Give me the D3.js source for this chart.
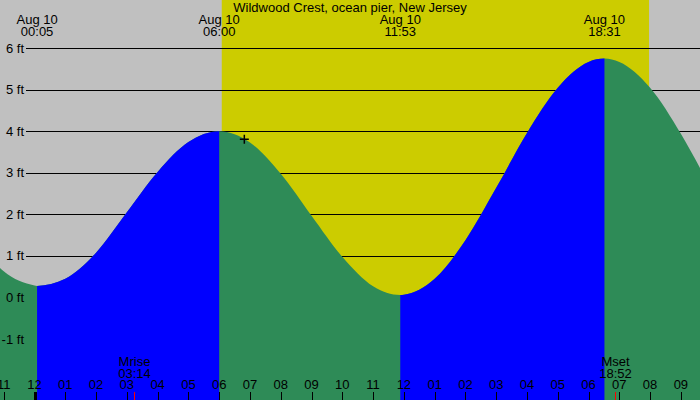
<!DOCTYPE html>
<html>
<head>
<meta charset="utf-8">
<script src="https://cdn.jsdelivr.net/npm/d3@7"></script>
<style>
  html, body { margin: 0; padding: 0; background: #fff; }
  svg { display: block; }
  text { font-family: "Liberation Sans", Arial, sans-serif; font-size: 13px; fill: #000; }
</style>
</head>
<body>
<svg id="chart" width="700" height="400"></svg>
<script>
// ---- data ----
const title = "Wildwood Crest, ocean pier, New Jersey";
const dateLabel = "Aug 10";
// tide extremes (times on Aug 10)
const extremeTimes = ["00:05", "06:00", "11:53", "18:31"];
const extremeTypes = ["low", "high", "low", "high"];
// water level (hours after Aug 10 00:00, feet)
const tideHours  = [-1.121, -1, 0, 0.083, 1, 2, 3, 4, 5, 6, 7, 8, 9, 10, 11, 11.883, 12, 13, 14, 15, 16, 17, 18, 18.517, 19, 20, 21, 21.621];
const tideLevels = [0.71, 0.63, 0.29, 0.28, 0.45, 1.08, 2.05, 3.02, 3.74, 4.0, 3.73, 2.98, 1.97, 0.98, 0.27, 0.06, 0.065, 0.45, 1.38, 2.64, 3.96, 5.05, 5.67, 5.75, 5.67, 5.05, 3.94, 3.12];
// daylight
const sunTimes = ["06:05", "19:58"];
// moon
const moonLabels = ["Mrise", "Mset"];
const moonTimes = ["03:14", "18:52"];
// axis ticks
const yTicks = [-1, 0, 1, 2, 3, 4, 5, 6];
const yTickLabels = ["-1 ft", "0 ft", "1 ft", "2 ft", "3 ft", "4 ft", "5 ft", "6 ft"];
const hourTicks = [-1, 0, 1, 2, 3, 4, 5, 6, 7, 8, 9, 10, 11, 12, 13, 14, 15, 16, 17, 18, 19, 20, 21];
const hourLabels = ["11", "12", "01", "02", "03", "04", "05", "06", "07", "08", "09", "10", "11", "12", "01", "02", "03", "04", "05", "06", "07", "08", "09"];
// current-time marker
const markerTime = "06:49";
const markerLevel = 3.81;

// ---- helpers ----
const toH = s => { const [h, m] = s.split(":").map(Number); return h + m / 60; };

const W = 700, H = 400;
const svg = d3.select("#chart");
const x = d3.scaleLinear().domain([-1.121, 21.621]).range([0, W]);
const y = d3.scaleLinear().domain([-1, 6]).range([339.1, 48.2]);

const C_GRAY = "#c0c0c0", C_YEL = "#cccc00", C_BLUE = "#0000ff", C_GREEN = "#2e8b57";

// sky
svg.append("rect").attr("x", 0).attr("y", 0).attr("width", W).attr("height", H).attr("fill", C_GRAY);
svg.append("rect")
  .attr("x", x(toH(sunTimes[0]))).attr("y", 0)
  .attr("width", x(toH(sunTimes[1])) - x(toH(sunTimes[0]))).attr("height", H)
  .attr("fill", C_YEL);

// gridlines
svg.append("g").selectAll("line").data(yTicks).join("line")
  .attr("x1", 26).attr("x2", W)
  .attr("y1", d => Math.round(y(d)) + 0.5).attr("y2", d => Math.round(y(d)) + 0.5)
  .attr("stroke", "#000").attr("stroke-width", 1);

// water
const pts = tideHours.map((t, i) => [t, tideLevels[i]]);
const area = d3.area().x(d => x(d[0])).y0(H).y1(d => y(d[1])).curve(d3.curveMonotoneX);
const defs = svg.append("defs");
// rising intervals: low -> high
const exH = extremeTimes.map(toH);
const rising = [];
exH.forEach((t, i) => {
  if (extremeTypes[i] === "low") {
    const next = i + 1 < exH.length ? exH[i + 1] : x.domain()[1];
    rising.push([t, next]);
  }
});
const clip = defs.append("clipPath").attr("id", "risingClip");
rising.forEach(r => {
  clip.append("rect").attr("x", x(r[0])).attr("y", 0).attr("width", x(r[1]) - x(r[0])).attr("height", H);
});
svg.append("path").datum(pts).attr("d", area).attr("fill", C_GREEN);
svg.append("path").datum(pts).attr("d", area).attr("fill", C_BLUE).attr("clip-path", "url(#risingClip)");

// y labels
svg.append("g").selectAll("text").data(yTicks).join("text")
  .attr("x", 24).attr("y", d => y(d) + 4.5)
  .attr("text-anchor", "end")
  .text((d, i) => yTickLabels[i]);

// title
svg.append("text").attr("x", 350).attr("y", 12).attr("text-anchor", "middle").text(title);

// extreme labels
const exG = svg.append("g").selectAll("g").data(extremeTimes).join("g")
  .attr("transform", d => `translate(${x(toH(d))},0)`);
exG.append("text").attr("y", 24).attr("text-anchor", "middle").text(dateLabel);
exG.append("text").attr("y", 36).attr("text-anchor", "middle").text(d => d);

// marker
const mx = x(toH(markerTime)), my = y(markerLevel);
svg.append("path")
  .attr("d", `M${mx - 4.5},${my}H${mx + 4.5}M${mx},${my - 4.5}V${my + 4.5}`)
  .attr("stroke", "#000").attr("stroke-width", 1.5);

// hour ticks & labels
svg.append("g").selectAll("line").data(hourTicks).join("line")
  .attr("x1", d => Math.round(x(d)) + 0.5).attr("x2", d => Math.round(x(d)) + 0.5)
  .attr("y1", 392).attr("y2", H)
  .attr("stroke", "#000")
  .attr("stroke-width", d => d === 0 ? 3 : 1);
svg.append("g").selectAll("text").data(hourTicks).join("text")
  .attr("x", d => x(d)).attr("y", 389)
  .attr("text-anchor", "middle")
  .text((d, i) => hourLabels[i]);

// moon events
moonTimes.forEach((t, i) => {
  const mxp = Math.round(x(toH(t))) + 0.5;
  svg.append("line").attr("x1", mxp).attr("x2", mxp).attr("y1", 392).attr("y2", H)
    .attr("stroke", "#ff0000").attr("stroke-width", 1);
  svg.append("text").attr("x", mxp).attr("y", 366).attr("text-anchor", "middle").text(moonLabels[i]);
  svg.append("text").attr("x", mxp).attr("y", 378).attr("text-anchor", "middle").text(t);
});
</script>
</body>
</html>
